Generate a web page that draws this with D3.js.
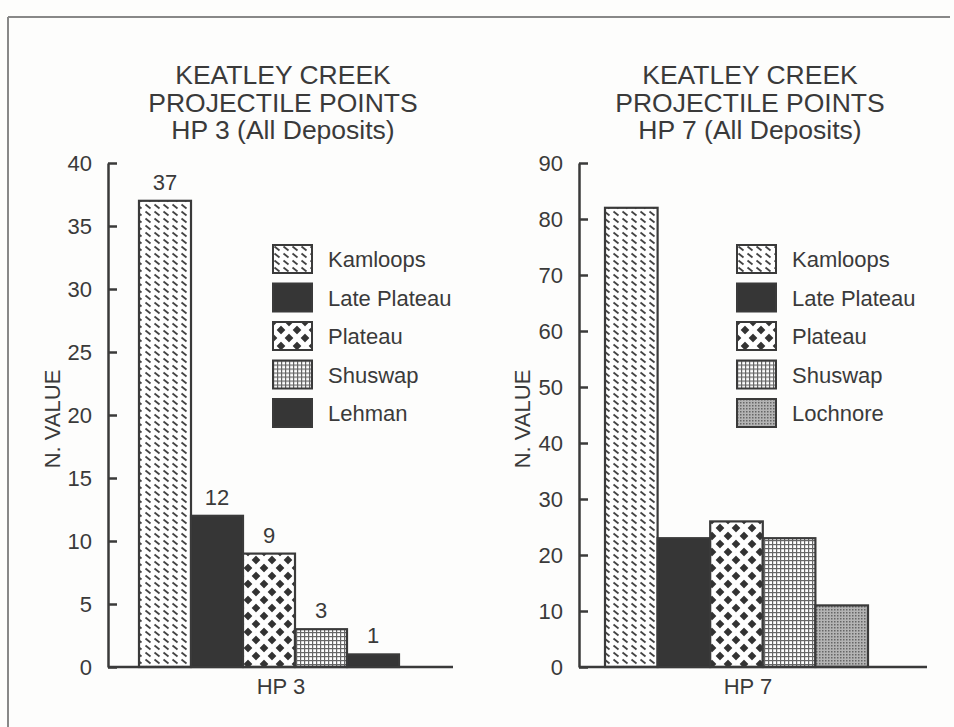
<!DOCTYPE html>
<html>
    <head>
        <meta charset="utf-8">
        <script src="https://d3js.org/d3.v7.min.js"></script>
        <style>
            body { margin: 0; background: #fdfdfc; }
            text { font-family: "Liberation Sans", Arial, sans-serif; fill: #3a3a3a; }
        </style>
    </head>
    <body>
        <div id="my_dataviz"></div>
        <script>
            // data
            const hp3Types = ["Kamloops", "Late Plateau", "Plateau", "Shuswap", "Lehman"];
            const hp3Counts = [37, 12, 9, 3, 1];
            const hp3Ticks = [0, 5, 10, 15, 20, 25, 30, 35, 40];

            const hp7Types = ["Kamloops", "Late Plateau", "Plateau", "Shuswap", "Lochnore"];
            const hp7Counts = [82, 23, 26, 23, 11];
            const hp7Ticks = [0, 10, 20, 30, 40, 50, 60, 70, 80, 90];

            const width = 954, height = 727;
            const ink = "#3a3a3a";

            const svg = d3.select("#my_dataviz")
                .append("svg")
                .attr("width", width)
                .attr("height", height);

            // fill patterns for each point type
            const defs = svg.append("defs");

            const kam = defs.append("pattern").attr("id", "p-kam")
                .attr("patternUnits", "userSpaceOnUse").attr("width", 9).attr("height", 7);
            kam.append("rect").attr("width", 9).attr("height", 7).attr("fill", "#fff");
            kam.append("line").attr("x1", 1.5).attr("y1", 1.5).attr("x2", 6.5).attr("y2", 5.5)
                .attr("stroke", "#444").attr("stroke-width", 1.8);

            const weave = defs.append("pattern").attr("id", "p-weave")
                .attr("patternUnits", "userSpaceOnUse").attr("width", 16).attr("height", 16);
            weave.append("rect").attr("width", 16).attr("height", 16).attr("fill", "#333");
            [[4, 4, -45], [12, 12, -45], [12, 4, 45], [4, 12, 45]].forEach(([cx, cy, a]) => {
                weave.append("rect")
                    .attr("x", -5.5).attr("y", -2.5).attr("width", 11).attr("height", 5)
                    .attr("rx", 2.5).attr("fill", "#fff")
                    .attr("transform", `translate(${cx},${cy}) rotate(${a})`);
            });

            const grid = defs.append("pattern").attr("id", "p-grid")
                .attr("patternUnits", "userSpaceOnUse").attr("width", 4).attr("height", 4);
            grid.append("rect").attr("width", 4).attr("height", 4).attr("fill", "#fff");
            grid.append("rect").attr("width", 4).attr("height", 1.2).attr("fill", "#666");
            grid.append("rect").attr("width", 1.2).attr("height", 4).attr("fill", "#666");

            const stip = defs.append("pattern").attr("id", "p-stip")
                .attr("patternUnits", "userSpaceOnUse").attr("width", 3).attr("height", 3);
            stip.append("rect").attr("width", 3).attr("height", 3).attr("fill", "#b4b4b4");
            stip.append("rect").attr("width", 1.5).attr("height", 1.5).attr("fill", "#666");

            const fillFor = {
                "Kamloops": "url(#p-kam)",
                "Late Plateau": "#363636",
                "Plateau": "url(#p-weave)",
                "Shuswap": "url(#p-grid)",
                "Lehman": "#363636",
                "Lochnore": "url(#p-stip)"
            };

            // frame lines (top and left)
            svg.append("line").attr("x1", 8).attr("y1", 17).attr("x2", 950).attr("y2", 17)
                .attr("stroke", "#888").attr("stroke-width", 2);
            svg.append("line").attr("x1", 8).attr("y1", 17).attr("x2", 8).attr("y2", 727)
                .attr("stroke", "#888").attr("stroke-width", 2);

            function panel(cfg) {
                const g = svg.append("g");

                const x = d3.scaleBand()
                    .domain(cfg.types)
                    .range(cfg.bars)
                    .padding(0);
                const y = d3.scaleLinear()
                    .domain([0, cfg.max])
                    .range([cfg.base, cfg.top]);

                // title
                cfg.title.forEach((t, i) => {
                    g.append("text")
                        .attr("x", cfg.titleX).attr("y", 84 + i * 27.5)
                        .attr("text-anchor", "middle")
                        .style("font-size", "26.5px")
                        .text(t);
                });

                // y axis
                const ax = g.append("g")
                    .attr("transform", `translate(${cfg.axisX},0)`)
                    .call(d3.axisLeft(y).tickValues(cfg.ticks).tickSizeInner(-9).tickSizeOuter(0).tickPadding(16));
                ax.select(".domain").attr("stroke", ink).attr("stroke-width", 2.5);
                ax.selectAll(".tick line").attr("stroke", ink).attr("stroke-width", 2.5);
                ax.selectAll(".tick text").style("font-size", "22px").attr("fill", ink)
                    .style("font-family", "Liberation Sans, Arial, sans-serif");

                g.append("text")
                    .attr("transform", `translate(${cfg.yTitleX},${(cfg.top + cfg.base) / 2 + 4}) rotate(-90)`)
                    .attr("text-anchor", "middle")
                    .style("font-size", "22px")
                    .text("N. VALUE");

                // bars
                g.selectAll("rect.bar")
                    .data(cfg.types.map((t, i) => ({ key: t, value: cfg.counts[i] })))
                    .join("rect")
                    .attr("class", "bar")
                    .attr("x", d => x(d.key))
                    .attr("y", d => y(d.value))
                    .attr("width", x.bandwidth())
                    .attr("height", d => y(0) - y(d.value))
                    .attr("fill", d => fillFor[d.key])
                    .attr("stroke", ink)
                    .attr("stroke-width", 2.2);

                if (cfg.showValues) {
                    g.selectAll("text.val")
                        .data(cfg.types.map((t, i) => ({ key: t, value: cfg.counts[i] })))
                        .join("text")
                        .attr("class", "val")
                        .attr("x", d => x(d.key) + x.bandwidth() / 2)
                        .attr("y", d => y(d.value) - 11)
                        .attr("text-anchor", "middle")
                        .style("font-size", "22px")
                        .text(d => d.value);
                }

                // baseline
                g.append("line")
                    .attr("x1", cfg.axisX).attr("x2", cfg.axisEnd)
                    .attr("y1", y(0)).attr("y2", y(0))
                    .attr("stroke", ink).attr("stroke-width", 2.5);

                g.append("text")
                    .attr("x", cfg.xTitleX).attr("y", 694)
                    .attr("text-anchor", "middle")
                    .style("font-size", "22px")
                    .text(cfg.xTitle);

                // legend
                const leg = g.selectAll("g.leg")
                    .data(cfg.types)
                    .join("g")
                    .attr("class", "leg")
                    .attr("transform", (d, i) => `translate(${cfg.legX},${245 + i * 38.5})`);
                leg.append("rect")
                    .attr("width", 39).attr("height", 28)
                    .attr("fill", d => fillFor[d])
                    .attr("stroke", ink).attr("stroke-width", 2);
                leg.append("text")
                    .attr("x", cfg.legTextDx).attr("y", 22)
                    .style("font-size", "22px")
                    .text(d => d);
            }

            panel({
                types: hp3Types, counts: hp3Counts, ticks: hp3Ticks, max: 40,
                title: ["KEATLEY CREEK", "PROJECTILE POINTS", "HP 3 (All Deposits)"],
                xTitle: "HP 3", showValues: true,
                axisX: 108, axisEnd: 453, bars: [139, 399], top: 163, base: 667,
                titleX: 283, yTitleX: 60, xTitleX: 281, legX: 273, legTextDx: 55
            });

            panel({
                types: hp7Types, counts: hp7Counts, ticks: hp7Ticks, max: 90,
                title: ["KEATLEY CREEK", "PROJECTILE POINTS", "HP 7 (All Deposits)"],
                xTitle: "HP 7", showValues: false,
                axisX: 579, axisEnd: 927, bars: [605, 868], top: 163, base: 667,
                titleX: 750, yTitleX: 530, xTitleX: 748, legX: 737, legTextDx: 55
            });
        </script>
    </body>
</html>
